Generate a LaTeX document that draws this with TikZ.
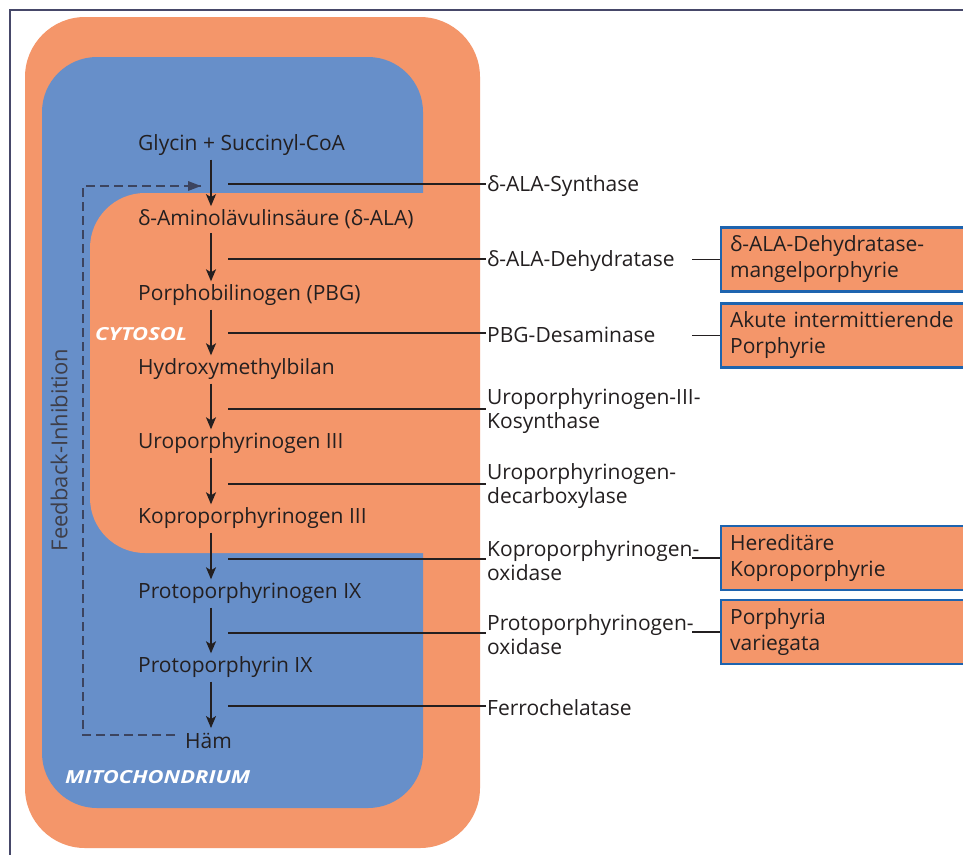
\documentclass[tikz,border=0pt]{standalone}
\usepackage{fontspec}
\setmainfont{Open Sans}
\usetikzlibrary{arrows.meta,calc}
\definecolor{orng}{RGB}{244,150,106}
\definecolor{blu}{RGB}{103,143,201}
\definecolor{txt}{RGB}{35,31,32}
\definecolor{frame}{RGB}{70,72,105}
\definecolor{fbcol}{RGB}{60,68,95}
\definecolor{fbtxt}{RGB}{62,62,72}
\definecolor{boxline}{RGB}{30,100,175}
\tikzset{
  chem/.style={anchor=west, inner sep=2pt, text=txt, font=\fontsize{21}{24}\selectfont},
  enz/.style={anchor=west, inner sep=0pt, text=txt, align=left, font=\fontsize{21}{24}\selectfont},
  dis/.style={anchor=west, draw=boxline, line width=2.2pt, fill=orng, text=txt, align=left,
    minimum height=64pt, text width=250pt, inner xsep=9pt, font=\fontsize{21}{26}\selectfont},
  rxn/.style={-{Stealth[length=12pt,width=10pt,inset=3pt]}, line width=1.5pt, txt, shorten <=2pt, shorten >=1pt},
  conn/.style={line width=1.2pt, txt},
  fb/.style={dashed, dash pattern=on 9pt off 5pt, line width=1.3pt, fbcol},
  region/.style={text=white, font=\fontsize{18}{18}\selectfont\bfseries\itshape\addfontfeature{FakeStretch=1.22}}
}
\begin{document}
\begin{tikzpicture}[x=1pt,y=-1pt]
\useasboundingbox (0,0) rectangle (963,854);
\clip (0,0) rectangle (963,854);
\fill[white] (0,0) rectangle (963,854);
% frame
\draw[frame, line width=2pt] (10,860) -- (10,10) -- (970,10);
% compartments
\fill[orng, rounded corners=60] (25,17) rectangle (480,848);
\fill[blu, rounded corners=55] (42,57) rectangle (423,808);
\begin{scope}
  \clip (0,0) rectangle (430,854);
  \fill[orng, rounded corners=55] (90,193) rectangle (600,553);
\end{scope}
% labels of compartments
\node[region, anchor=west, inner sep=0pt] (cyt) at (95,334) {CYTOSOL};
\node[region, anchor=west, inner sep=0pt] (mit) at (65,777) {MITOCHONDRIUM};
\node[rotate=90, text=fbtxt, font=\fontsize{22}{22}\selectfont] (fbl) at (59,450) {Feedback-Inhibition};
% chemicals
\coordinate (ax) at (211,0);
\coordinate (lx) at (228,0);
\node[chem] (g1) at (136,145) {Glycin + Succinyl-CoA};
\node[chem] (g2) at (136,219) {δ-Aminolävulinsäure (δ-ALA)};
\node[chem] (g3) at (136,295) {Porphobilinogen (PBG)};
\node[chem] (g4) at (136,369) {Hydroxymethylbilan};
\node[chem] (g5) at (136,443) {Uroporphyrinogen III};
\node[chem] (g6) at (136,518) {Koproporphyrinogen III};
\node[chem] (g7) at (136,593) {Protoporphyrinogen IX};
\node[chem] (g8) at (136,667) {Protoporphyrin IX};
\node[chem, inner sep=4pt] (g9) at (181,741) {Häm};
\foreach \a/\b in {g1/g2,g2/g3,g3/g4,g4/g5,g5/g6,g6/g7,g7/g8,g8/g9}
  \draw[rxn] (\a.south -| ax) -- (\b.north -| ax);
% enzymes
\node[enz] (e1) at (487,186) {δ-ALA-Synthase};
\node[enz] (e2) at (487,261) {δ-ALA-Dehydratase};
\node[enz] (e3) at (487,335) {PBG-Desaminase};
\node[enz] (e4) at (487,411) {Uroporphyrinogen-III-\\Kosynthase};
\node[enz] (e5) at (487,486) {Uroporphyrinogen-\\decarboxylase};
\node[enz] (e6) at (487,561) {Koproporphyrinogen-\\oxidase};
\node[enz] (e7) at (487,635) {Protoporphyrinogen-\\oxidase};
\node[enz] (e8) at (487,708) {Ferrochelatase};
\foreach \e in {e1,e2,e3,e4,e5,e6,e7,e8}
  \draw[conn] ([yshift=2pt]\e.west -| lx) -- ([xshift=-1pt,yshift=2pt]\e.west);
% feedback
\coordinate (fbc) at (83,186);
\coordinate (fbe) at (201,186);
\draw[fb] ([xshift=-6pt,yshift=6pt]g9.west) -| (fbc) -- (fbe);
\fill[fbcol] (fbe) -- ++(-13,-5) -- ++(0,10) -- cycle;
% diseases
\coordinate (dx) at (692,0);
\node[dis] (d1) at (720,259.5) {δ-ALA-Dehydratase-\\mangelporphyrie};
\node[dis] (d2) at (720,335.5) {Akute intermittierende\\Porphyrie};
\node[dis] (d3) at (720,558) {Hereditäre\\Koproporphyrie};
\node[dis] (d4) at (720,632) {Porphyria\\variegata};
\foreach \d in {d1,d2,d3,d4}
  \draw[conn] (\d.west -| dx) -- (\d.west);
\end{tikzpicture}
\end{document}
